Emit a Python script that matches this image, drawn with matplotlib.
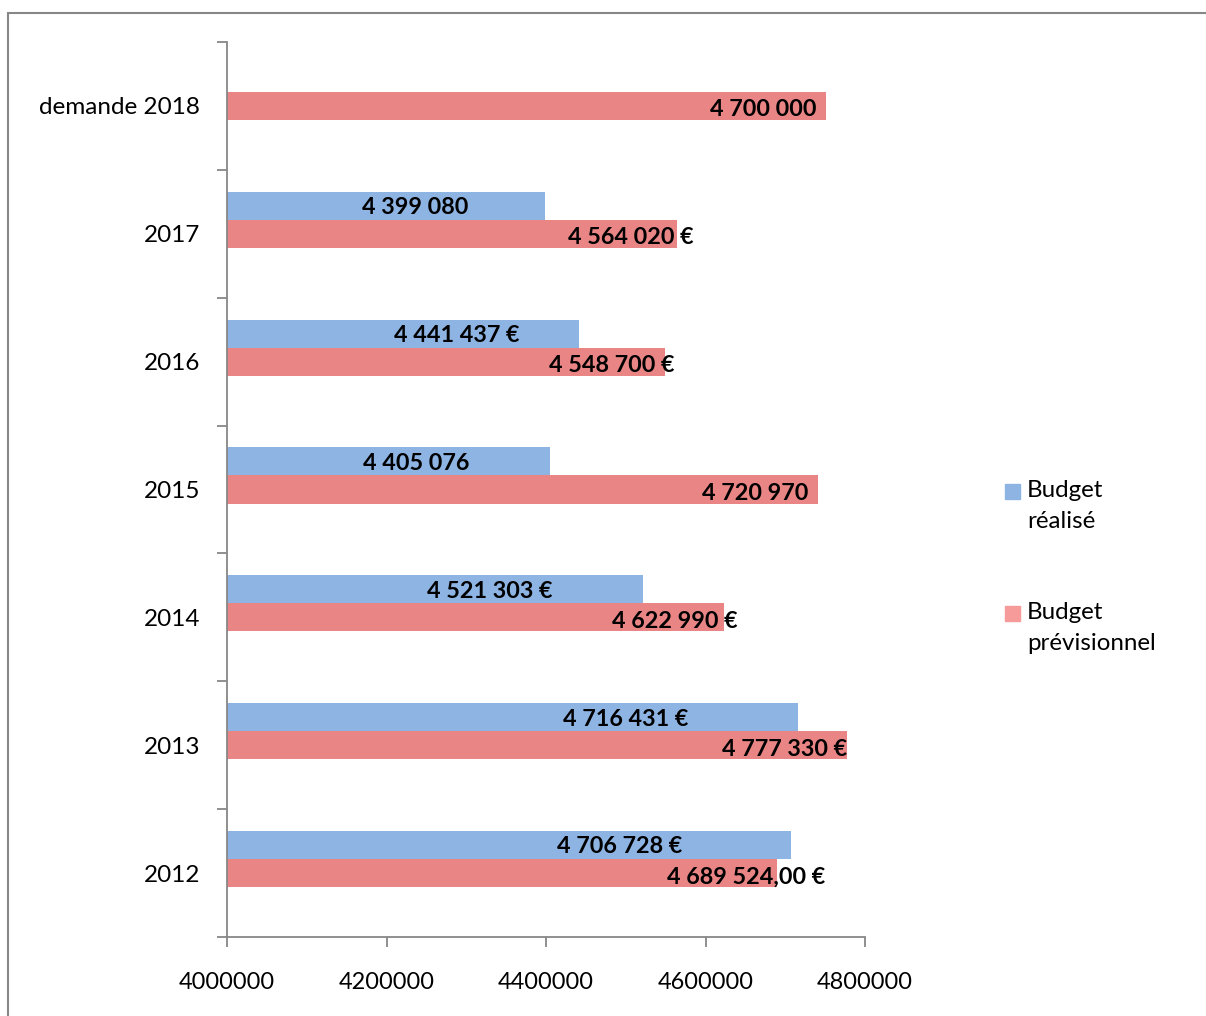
import numpy as np
import matplotlib.pyplot as plt
from matplotlib.patches import Rectangle

# données (du bas vers le haut)
categories = ["2012", "2013", "2014", "2015", "2016", "2017", "demande 2018"]
realise = [4706728, 4716431, 4521303, 4405076, 4441437, 4399080, np.nan]
previsionnel = [4689524, 4777330, 4622990, 4741000, 4548700, 4564020, 4751000]
lab_realise = ["4 706 728 €", "4 716 431 €", "4 521 303 €", "4 405 076",
               "4 441 437 €", "4 399 080", ""]
lab_prev = ["4 689 524,00 €", "4 777 330 €", "4 622 990 €", "4 720 970",
            "4 548 700 €", "4 564 020 €", "4 700 000"]
xticks = [4000000, 4200000, 4400000, 4600000, 4800000]

# position du centre des étiquettes (comme dans le graphique Excel)
pos_realise = [4492800, 4500300, 4329800, 4237000, 4288400, 4235700, 0]
pos_prev = [4650800, 4699700, 4561700, 4662000, 4482800, 4506600, 4672100]

plt.rcParams['font.family'] = ['Lato', 'DejaVu Sans']

bleu = '#8EB4E3'
rouge = '#E98585'
gris = '#878787'

fig = plt.figure(figsize=(12.06, 10.16), dpi=100)
ax = fig.add_axes([227/1206, 1 - 937/1016, 638/1206, 895/1016])

y = np.arange(len(categories)) + 0.5
h = 0.219
ax.barh(y + h, np.array(realise) - 4000000, left=4000000, height=h, color=bleu)
ax.barh(y, np.array(previsionnel) - 4000000, left=4000000, height=h, color=rouge)

for i in range(len(categories)):
    if lab_realise[i]:
        ax.text(pos_realise[i], y[i] + h - 0.015, lab_realise[i], ha='center', va='center',
                fontsize=16.8, fontweight='bold', color='black')
    ax.text(pos_prev[i], y[i] - 0.03, lab_prev[i], ha='center', va='center',
            fontsize=16.8, fontweight='bold', color='black')

ax.set_xlim(4000000, 4800000)
ax.set_ylim(0, len(categories))
ax.set_xticks(xticks)
ax.set_xticklabels([str(v) for v in xticks], fontsize=16.9)
ax.set_yticks(y)
ax.set_yticklabels(categories, fontsize=17.5)
ax.set_yticks(np.arange(len(categories) + 1), minor=True)
ax.tick_params(axis='y', which='major', length=0, pad=19.5)
ax.tick_params(axis='y', which='minor', length=7.5, width=1.3, color=gris)
ax.tick_params(axis='x', length=7.5, width=1.3, color=gris, pad=17.5)

for s in ['top', 'right']:
    ax.spines[s].set_visible(False)
for s in ['left', 'bottom']:
    ax.spines[s].set_color(gris)
    ax.spines[s].set_linewidth(1.3)

# légende
fig.add_artist(Rectangle((1005/1206, 1 - 499/1016), 15/1206, 15/1016,
                         transform=fig.transFigure, color=bleu))
fig.text(1027/1206, 1 - 480/1016, "Budget\nréalisé", fontsize=17.4,
         va='top', ha='left', linespacing=1.6)
fig.add_artist(Rectangle((1005/1206, 1 - 621/1016), 15/1206, 15/1016,
                         transform=fig.transFigure, color='#F79A9A'))
fig.text(1027/1206, 1 - 602/1016, "Budget\nprévisionnel", fontsize=17.4,
         va='top', ha='left', linespacing=1.6)

# cadre
fig.add_artist(Rectangle((8/1206, -0.1), 1.5, 1.1 - 13/1016, transform=fig.transFigure,
                         fill=False, edgecolor=gris, linewidth=1.5))

fig.savefig("out.png", dpi=100)
